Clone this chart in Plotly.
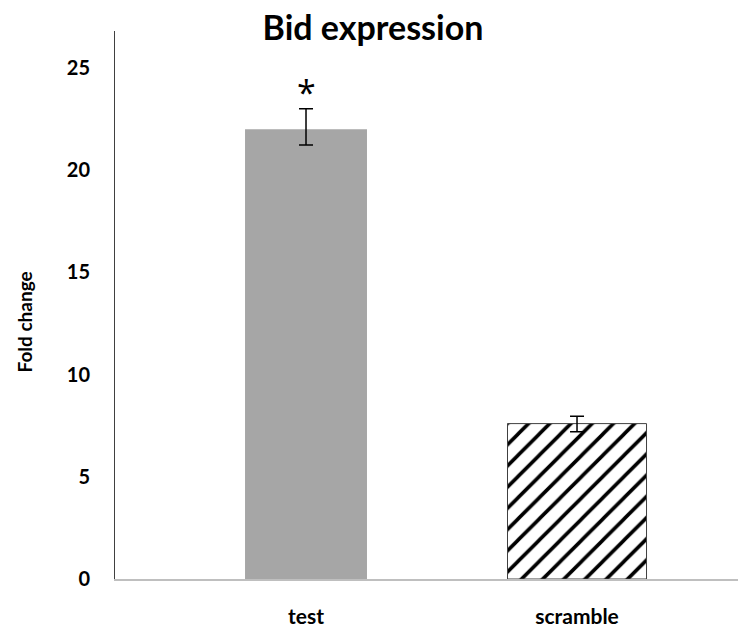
import plotly.graph_objects as go

categories = ["test", "scramble"]
fold_change = [22.0, 7.6]
err_plus = [1.0, 0.36]
err_minus = [0.78, 0.4]
significance = ["*", ""]
y_ticks = [0, 5, 10, 15, 20, 25]

FONT = "Lato, 'Open Sans', sans-serif"

bar_widths = [0.45, 0.513]
fills = ["#a6a6a6", "white"]
patterns = ["", "/"]
outlines = ["#a6a6a6", "#404040"]

fig = go.Figure()
for i, cat in enumerate(categories):
    fig.add_trace(go.Bar(
        x=[i], y=[fold_change[i]], width=[bar_widths[i]],
        name=cat,
        marker=dict(
            color=fills[i],
            line=dict(color=outlines[i], width=1 if patterns[i] else 0),
            pattern=dict(shape=patterns[i], fgcolor="black", bgcolor="white",
                         fgopacity=1, size=15, solidity=0.24, fillmode="overlay") if patterns[i] else None,
        ),
        error_y=dict(type="data", symmetric=False, array=[err_plus[i]],
                     arrayminus=[err_minus[i]], color="black", thickness=1.5, width=7),
        showlegend=False,
    ))
    if significance[i]:
        fig.add_annotation(x=i, y=fold_change[i] + err_plus[i], text=significance[i],
                           showarrow=False, yanchor="bottom", yshift=-8,
                           font=dict(family="'Open Sans', sans-serif", size=34, color="black"))

fig.update_layout(
    width=738, height=629,
    margin=dict(l=115, r=0, t=31, b=50),
    plot_bgcolor="white", paper_bgcolor="white",
    barmode="overlay",
    title=dict(text="<b>Bid expression</b>", x=373 / 738, xanchor="center",
               y=1 - 28 / 629, yanchor="middle",
               font=dict(family=FONT, size=34, color="black")),
    xaxis=dict(
        tickvals=list(range(len(categories))), ticktext=[f"<b>{c}</b>" for c in categories],
        range=[-0.7048, 1.594], showline=True, linecolor="#bfbfbf", linewidth=1.5,
        showgrid=False, zeroline=False, ticks="", ticklabelstandoff=18,
        tickfont=dict(family=FONT, size=21, color="black"),
    ),
    yaxis=dict(
        range=[0, 26.8], tickvals=y_ticks, ticktext=[f"<b>{t}</b>" for t in y_ticks],
        showline=True, linecolor="#404040", linewidth=1,
        showgrid=False, zeroline=False, ticks="", ticklabelstandoff=20,
        tickfont=dict(family=FONT, size=20, color="black"),
    ),
)
fig.add_annotation(text="<b>Fold change</b>", textangle=-90, xref="paper", yref="paper",
                   x=-(115 - 24) / 623, y=(579 - 322.5) / 548, xanchor="center", yanchor="middle",
                   showarrow=False, font=dict(family=FONT, size=19, color="black"))

fig.write_html("out.html", config={"displayModeBar": False},
               post_script="document.body.style.margin='0';document.body.style.padding='0';")
